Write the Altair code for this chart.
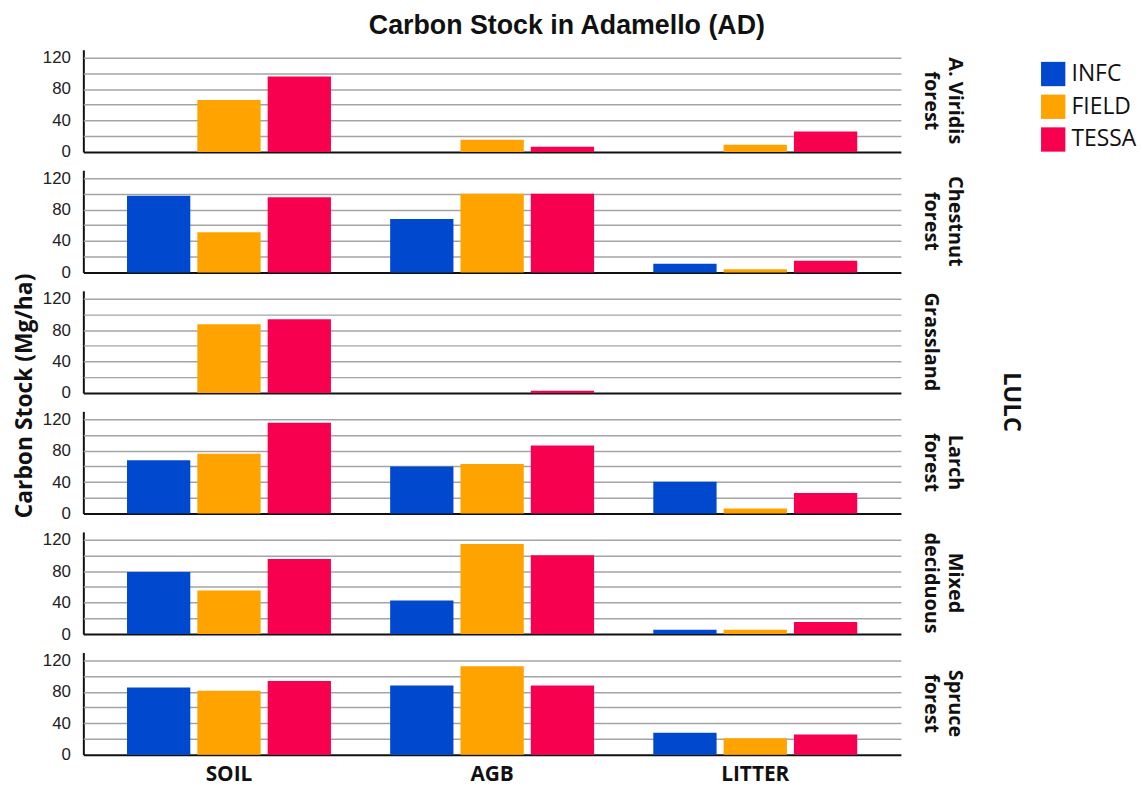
import altair as alt
import pandas as pd

# Land use / land cover classes (facet rows), carbon pools (x) and data sources (bars)
lulc = ["A. Viridis|forest", "Chestnut|forest", "Grassland", "Larch|forest",
        "Mixed|deciduous", "Spruce|forest"]
pools = ["SOIL", "AGB", "LITTER"]
sources = ["INFC", "FIELD", "TESSA"]
colors = ["#0048CE", "#FFA300", "#F7004F"]

# Carbon stock (Mg/ha) per LULC class; each row gives SOIL, AGB, LITTER
infc = [
    [None, None, None],
    [97.5, 68.0, 11.0],
    [None, None, None],
    [67.7, 59.8, 40.6],
    [78.9, 42.8, 5.5],
    [85.5, 88.0, 27.8],
]
field = [
    [66.0, 15.6, 9.0],
    [51.0, 100.0, 4.0],
    [87.5, None, None],
    [76.1, 63.1, 6.3],
    [55.4, 114.5, 5.5],
    [81.4, 112.5, 20.8],
]
tessa = [
    [96.0, 6.7, 26.0],
    [95.8, 100.0, 15.0],
    [93.7, 2.9, None],
    [115.4, 86.6, 26.3],
    [95.7, 100.3, 15.5],
    [93.8, 88.0, 25.7],
]

rows = []
for src, table in zip(sources, [infc, field, tessa]):
    for cls, vals in zip(lulc, table):
        for pool, v in zip(pools, vals):
            if v is not None:
                rows.append({"LULC": cls, "pool": pool, "source": src, "stock": v})
df = pd.DataFrame(rows)

bars = alt.Chart(df).mark_bar().encode(
    x=alt.X("pool:N", sort=pools,
            scale=alt.Scale(domain=pools, paddingInner=0.225, paddingOuter=0.166),
            axis=alt.Axis(title=None, labelAngle=0, ticks=False, domain=False,
                          labelFont="Open Sans", labelFontSize=21,
                          labelFontWeight="bold", labelColor="#111",
                          labelPadding=9)),
    xOffset=alt.XOffset("source:N", sort=sources,
                        scale=alt.Scale(domain=sources, paddingInner=0.1, paddingOuter=0)),
    y=alt.Y("stock:Q",
            scale=alt.Scale(domain=[0, 130], nice=False, zero=True),
            axis=alt.Axis(title=None, values=[0, 20, 40, 60, 80, 100, 120],
                          labelExpr="datum.value % 40 == 0 ? datum.label : ''",
                          ticks=False, domainColor="#111", domainWidth=2,
                          labelFont="Liberation Sans", labelFontSize=17,
                          labelColor="#222", labelPadding=13,
                          gridColor=alt.condition("datum.value == 0",
                                                  alt.value("#111"), alt.value("#a4a4a4")),
                          gridWidth=alt.condition("datum.value == 0",
                                                  alt.value(2), alt.value(1.5)))),
    color=alt.Color("source:N", sort=sources,
                    scale=alt.Scale(domain=sources, range=colors),
                    legend=alt.Legend(title=None, orient="none", legendX=965, legendY=12,
                                      symbolType="square", symbolSize=600,
                                      symbolStrokeWidth=0, symbolOpacity=1,
                                      labelFont="Open Sans", labelFontSize=23,
                                      labelColor="#111", rowPadding=8, labelOffset=6)),
).properties(width=824, height=103)

faceted = bars.facet(
    row=alt.Row("LULC:N", sort=lulc,
                header=alt.Header(title="LULC", titleOrient="right", titleAngle=90,
                                  titleFont="Open Sans", titleFontSize=24,
                                  titleFontWeight="bold", titleColor="#111",
                                  titlePadding=25,
                                  labelOrient="right", labelAngle=90,
                                  labelExpr="split(datum.value, '|')",
                                  labelFont="Open Sans", labelFontSize=20,
                                  labelFontWeight="bold", labelColor="#111",
                                  labelPadding=20, labelLineHeight=24)),
    spacing=18.5,
).properties(
    title=alt.TitleParams("Carbon Stock (Mg/ha)", orient="left", anchor="middle",
                          font="Open Sans", fontSize=23, fontWeight="bold",
                          color="#111", offset=5, dx=21)
)

chart = alt.vconcat(faceted).properties(
    title=alt.TitleParams("Carbon Stock in Adamello (AD)", font="Liberation Sans",
                          fontSize=27, fontWeight="bold", color="#111",
                          anchor="middle", offset=9, dx=-9),
    padding={"left": 14, "top": 8, "right": 5, "bottom": 0},
).configure_view(stroke=None)

chart.save("out.html", embed_options={"renderer": "svg", "actions": False})
